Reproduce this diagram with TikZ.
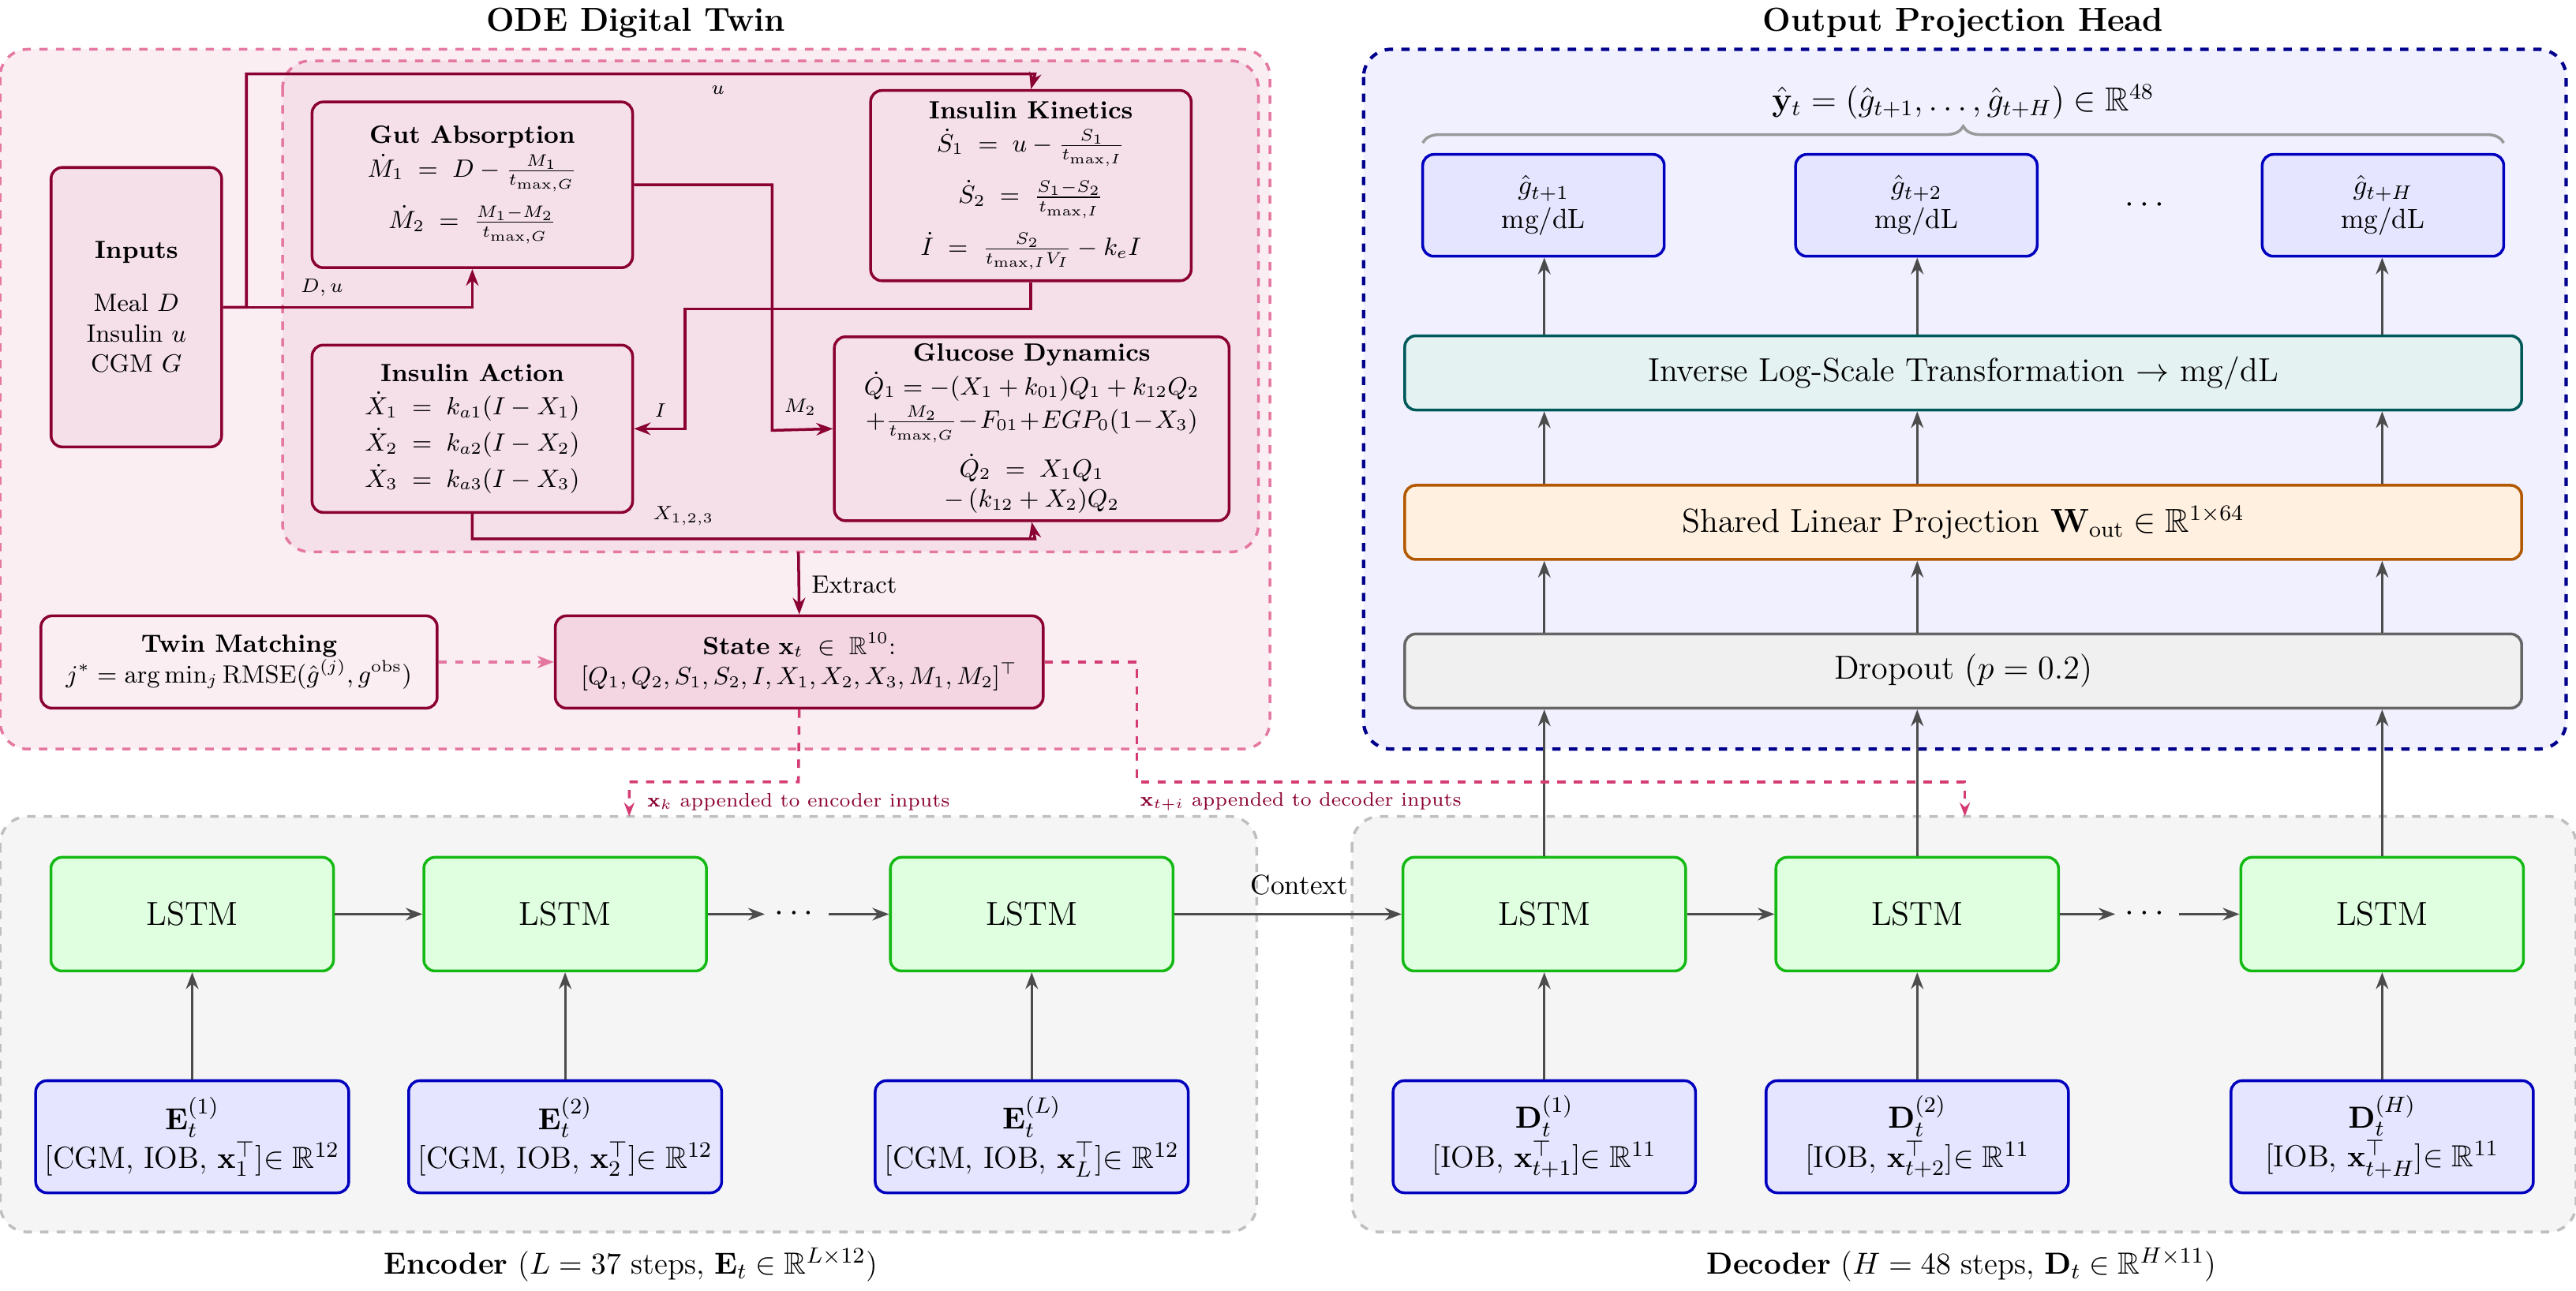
\documentclass[tikz,border=0pt]{standalone}
\usepackage{amsmath,amssymb}
\usetikzlibrary{arrows.meta,decorations.pathreplacing}
\definecolor{odered}{RGB}{139,0,50}
\definecolor{odepink}{RGB}{228,120,160}
\definecolor{statepink}{RGB}{212,60,115}
\definecolor{outerfill}{RGB}{250,238,243}
\definecolor{innerfill}{RGB}{245,224,233}
\definecolor{statefill}{RGB}{244,214,226}
\definecolor{navy}{RGB}{0,0,140}
\definecolor{boxblue}{RGB}{0,0,190}
\definecolor{lstmgreen}{RGB}{20,185,20}
\tikzset{
  odebox/.style={draw=odered, line width=1pt, rounded corners=4pt, fill=innerfill, align=center, font=\small},
  odeflow/.style={draw=odered, line width=1pt, -{Stealth[length=6pt]}},
  outbox/.style={draw=boxblue, line width=1pt, rounded corners=4pt, fill=blue!10!white, align=center, minimum width=3.06cm, minimum height=1.29cm},
  layer/.style={line width=1pt, rounded corners=4pt, minimum width=14.15cm, minimum height=0.94cm},
  lstm/.style={draw=lstmgreen, line width=1pt, rounded corners=4pt, fill=green!12!white, minimum width=3.58cm, minimum height=1.44cm, font=\large},
  inbox/.style={draw=boxblue, line width=1pt, rounded corners=4pt, fill=blue!10!white, align=center, minimum width=3.83cm, minimum height=1.42cm, font=\fontsize{11}{14}\selectfont},
  flow/.style={draw=black!70, line width=0.9pt, -{Stealth[length=6pt]}},
  lbl/.style={font=\scriptsize},
  applbl/.style={font=\scriptsize, text=odered},
}
\begin{document}
\begin{tikzpicture}[x=0.020816cm, y=-0.020816cm]
\useasboundingbox (0,0) rectangle (1568,785.5);

% 1. 背景区域
\draw[odepink, line width=1pt, dashed, rounded corners=10pt, fill=outerfill] (0,30) rectangle (773,456);
\draw[odepink, line width=1pt, dashed, rounded corners=10pt, fill=innerfill] (172,37) rectangle (766,336);
\draw[navy, line width=1.2pt, dashed, rounded corners=10pt, fill=blue!6!white] (830,30) rectangle (1562,456);
\draw[black!25, line width=1pt, dashed, rounded corners=10pt, fill=black!4] (0,497) rectangle (765,750);
\draw[black!25, line width=1pt, dashed, rounded corners=10pt, fill=black!4] (823,497) rectangle (1568,750);
\node[font=\large\bfseries] (odetitle) at (387,14) {ODE Digital Twin};
\node[font=\large\bfseries] (headtitle) at (1195,14) {Output Projection Head};
\node[font=\fontsize{11}{13}\selectfont] (enclabel) at (384,770) {\textbf{Encoder} ($L=37$ steps, $\mathbf{E}_t\in\mathbb{R}^{L\times 12}$)};
\node[font=\fontsize{11}{13}\selectfont] (declabel) at (1194,770) {\textbf{Decoder} ($H=48$ steps, $\mathbf{D}_t\in\mathbb{R}^{H\times 11}$)};

% 2. ODE 模块
\node[odebox, minimum width=2.16cm, minimum height=3.54cm] (inputs) at (83,187)
  {\textbf{Inputs}\\[8pt] Meal $D$\\ Insulin $u$\\ CGM $G$};
\node[odebox, minimum width=4.06cm, minimum height=2.10cm] (gut) at (287.5,112.5)
  {\textbf{Gut Absorption}\\[1pt] $\dot M_1 \;=\; D - \frac{M_1}{t_{\max,G}}$\\[4pt] $\dot M_2 \;=\; \frac{M_1-M_2}{t_{\max,G}}$};
\node[odebox, minimum width=4.06cm, minimum height=2.41cm] (kin) at (627.5,113)
  {\textbf{Insulin Kinetics}\\[1pt] $\dot S_1 \;=\; u - \frac{S_1}{t_{\max,I}}$\\[4pt] $\dot S_2 \;=\; \frac{S_1-S_2}{t_{\max,I}}$\\[4pt] $\dot I \;=\; \frac{S_2}{t_{\max,I}V_I} - k_e I$};
\node[odebox, minimum width=4.06cm, minimum height=2.12cm] (act) at (287.5,261)
  {\textbf{Insulin Action}\\[1pt] $\dot X_1 \;=\; k_{a1}(I - X_1)$\\[2pt] $\dot X_2 \;=\; k_{a2}(I - X_2)$\\[2pt] $\dot X_3 \;=\; k_{a3}(I - X_3)$};
\node[odebox, minimum width=5.0cm, minimum height=2.33cm, inner sep=2pt] (gluc) at (628,261)
  {\textbf{Glucose Dynamics}\\[1pt] $\dot Q_1 = -(X_1+k_{01})Q_1 + k_{12}Q_2$\\[1pt] $+\frac{M_2}{t_{\max,G}}\!-\!F_{01}\!+\!EGP_0(1\!-\!X_3)$\\[3pt] $\dot Q_2 \;=\; X_1Q_1$\\ $-\,(k_{12}+X_2)Q_2$};
\node[odebox, fill=outerfill, minimum width=5.02cm, minimum height=1.17cm] (twin) at (145.5,403)
  {\textbf{Twin Matching}\\ $j^* = \arg\min_j \mathrm{RMSE}(\hat g^{(j)}, g^{\mathrm{obs}})$};
\node[odebox, fill=statefill, minimum width=6.18cm, minimum height=1.17cm] (state) at (486.5,403)
  {\textbf{State} $\mathbf{x}_t\;\in\;\mathbb{R}^{10}$:\\ $[Q_1,Q_2,S_1,S_2,I,X_1,X_2,X_3,M_1,M_2]^\top$};
\coordinate (innerbot) at (486,336);

\draw[odeflow] (inputs.east) -- (150,187) |- (630,45) -- (kin.north);
\draw[odeflow] (inputs.east) -| (gut.south);
\draw[odeflow] (gut.east) -| (470,262) -- (gluc.west);
\draw[odeflow] (kin.south) |- (417,188) |- (act.east);
\draw[odeflow] (act.south) |- (630,328) -- (gluc.south);
\draw[odeflow] (innerbot) -- (state.north);
\draw[odepink, line width=1pt, dashed, -{Stealth[length=6pt]}] (twin) -- (state);
\node[lbl] (ulbl) at (437,55) {$u$};
\node[lbl] (dulbl) at (196,175) {$D,u$};
\node[lbl] (m2lbl) at (487,248) {$M_2$};
\node[lbl] (ilbl) at (402,250) {$I$};
\node[lbl] (xlbl) at (416,314) {$X_{1,2,3}$};
\node[font=\small] (extract) at (520,356) {Extract};

% 3. 输出头
\node[outbox] (g1) at (939.5,125) {$\hat g_{t+1}$\\ mg/dL};
\node[outbox] (g2) at (1166.5,125) {$\hat g_{t+2}$\\ mg/dL};
\node[font=\large] (gdots) at (1307,125) {$\cdots$};
\node[outbox] (g3) at (1450.5,125) {$\hat g_{t+H}$\\ mg/dL};
\draw[black!40, line width=1pt, decorate, decoration={brace, amplitude=6pt}] (866,87) -- (1524,87);
\node[font=\large] (ylbl) at (1195,62) {$\hat{\mathbf{y}}_t=(\hat g_{t+1},\ldots,\hat g_{t+H})\in\mathbb{R}^{48}$};
\node[layer, draw=teal!70!black, fill=teal!10!white, font=\large] (inv) at (1195,227) {Inverse Log-Scale Transformation $\rightarrow$ mg/dL};
\node[layer, draw=orange!70!black, fill=orange!12!white, font=\large] (lin) at (1195,318) {Shared Linear Projection $\mathbf{W}_{\mathrm{out}}\in\mathbb{R}^{1\times 64}$};
\node[layer, draw=black!60, fill=black!6, font=\large] (drop) at (1195,408.5) {Dropout ($p=0.2$)};

% 4. 编码器与解码器
\foreach \n/\x/\t in {e1/117/{1}, e2/344/{2}, e3/628/{L}}
  {\node[lstm] (l\n) at (\x,556.5) {LSTM};
   \node[inbox] (\n) at (\x,692) {$\mathbf{E}_t^{(\t)}$\\ {[CGM, IOB, $\mathbf{x}_{\t}^\top$]}$\in\mathbb{R}^{12}$};
   \draw[flow] (\n) -- (l\n);
  }
\foreach \n/\x/\t/\s in {d1/940/{1}/{t+1}, d2/1167/{2}/{t+2}, d3/1450/{H}/{t+H}}
  {\node[lstm] (l\n) at (\x,556.5) {LSTM};
   \node[inbox] (\n) at (\x,692) {$\mathbf{D}_t^{(\t)}$\\ {[IOB, $\mathbf{x}_{\s}^\top$]}$\in\mathbb{R}^{11}$};
   \draw[flow] (\n) -- (l\n);
  }
\node[font=\large] (edots) at (485,556.5) {$\cdots$};
\node[font=\large] (ddots) at (1307,556.5) {$\cdots$};
\draw[flow] (le1) -- (le2);
\draw[flow] (le2) -- (edots);
\draw[flow] (edots) -- (le3);
\draw[flow] (le3) -- node[pos=0.55, above=3pt] {Context} (ld1);
\draw[flow] (ld1) -- (ld2);
\draw[flow] (ld2) -- (ddots);
\draw[flow] (ddots) -- (ld3);
\foreach \g/\d in {g1/ld1, g2/ld2, g3/ld3}
  {\draw[flow] (\d.north) -- (\d.north |- drop.south);
   \draw[flow] (\d.north |- drop.north) -- (\d.north |- lin.south);
   \draw[flow] (\d.north |- lin.north) -- (\d.north |- inv.south);
   \draw[flow] (\d.north |- inv.north) -- (\d.north |- \g.south);
  }

% 5. 状态注入
\coordinate (encin) at (383,497);
\coordinate (decin) at (1196,497);
\draw[statepink, line width=1pt, dashed, -{Stealth[length=5pt]}] (state.south) -- (486,476) -| (encin);
\draw[statepink, line width=1pt, dashed, -{Stealth[length=5pt]}] (state.east) -| (692,476) -| (decin);
\node[applbl, anchor=west] (encapp) at (388,488) {$\mathbf{x}_k$ appended to encoder inputs};
\node[applbl, anchor=west] (decapp) at (688,488) {$\mathbf{x}_{t+i}$ appended to decoder inputs};
\end{tikzpicture}
\end{document}
